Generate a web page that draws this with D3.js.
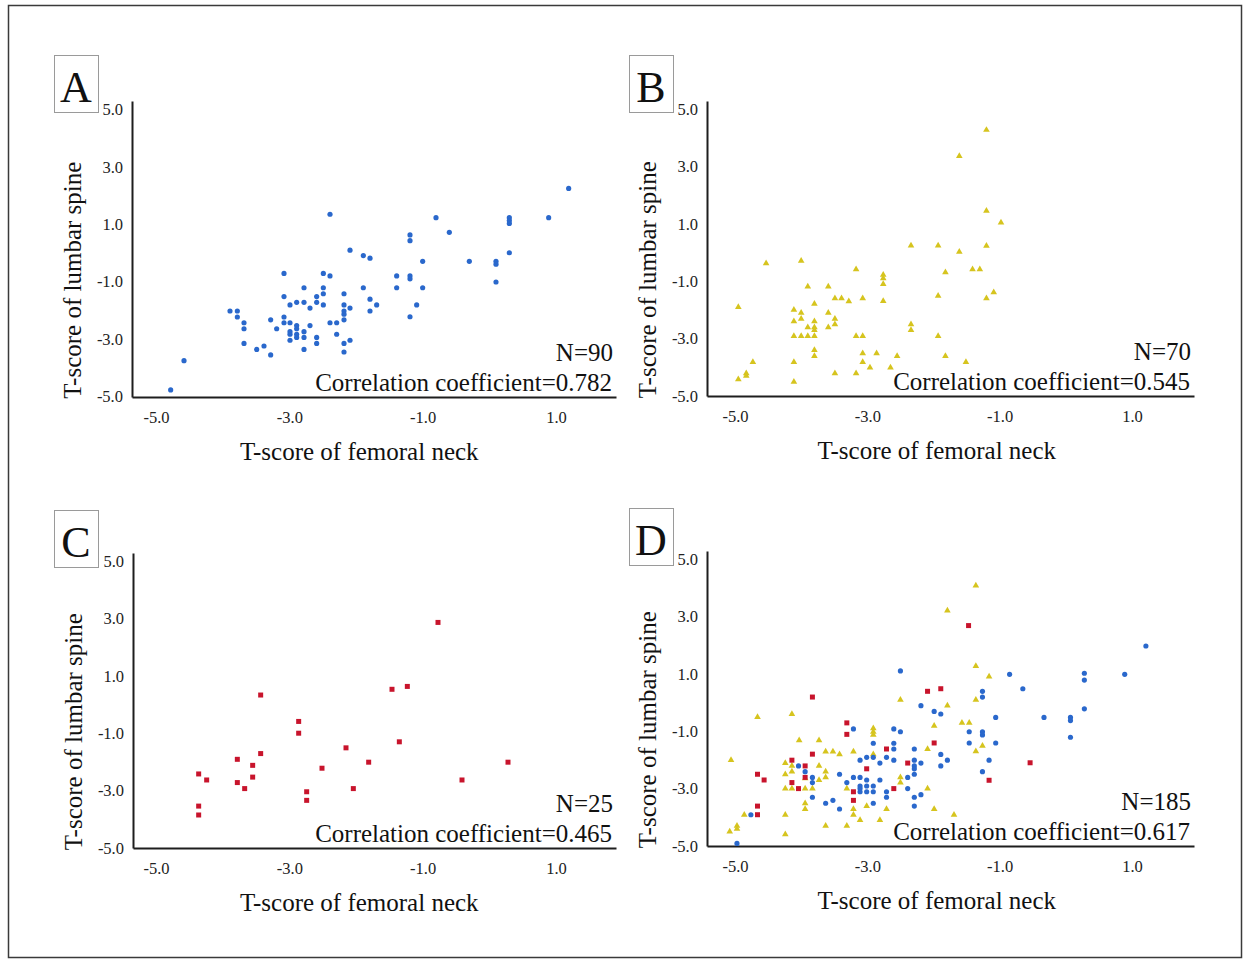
<!DOCTYPE html>
<html>
<head>
<meta charset="utf-8">
<script src="https://cdn.jsdelivr.net/npm/d3@7"></script>
<style>
  html, body { margin: 0; padding: 0; background: #fff; }
  svg { display: block; font-family: "Liberation Serif", "Times New Roman", serif; }
</style>
</head>
<body>
<div id="chart"></div>
<script>
/* Four scatter panels: T-score lumbar spine vs femoral neck */

// ---- data ----
const xTicks = [-5, -3, -1, 1];
const yTicks = [5, 3, 1, -1, -3, -5];
const panelLetters = ["A", "B", "C", "D"];
const panelN = [90, 70, 25, 185];
const panelR = ["0.782", "0.545", "0.465", "0.617"];

const panelA_blue = [
  [-2.39,1.35],[-2.09,0.10],[-1.89,-0.09],[-1.79,-0.18],[-3.08,-0.71],[-2.49,-0.71],[-2.39,-0.80],
  [-2.78,-1.21],[-2.49,-1.21],[-2.49,-1.42],[-1.89,-1.21],[-3.08,-1.52],[-2.59,-1.52],[-2.18,-1.42],
  [-1.79,-1.61],[-1.69,-1.81],[-1.79,-2.02],[-2.99,-1.81],[-2.89,-1.72],[-2.78,-1.72],[-2.69,-1.92],
  [-2.59,-1.72],[-2.49,-1.81],[-2.18,-1.81],[-2.18,-2.02],[-2.18,-2.13],[-2.09,-1.92],[-2.18,-2.33],
  [-2.39,-2.43],[-2.29,-2.43],[-2.29,-2.83],[-2.18,-3.15],[-2.09,-3.04],[-2.18,-3.45],[-3.89,-2.02],
  [-3.78,-2.02],[-3.78,-2.23],[-3.68,-2.43],[-3.68,-2.64],[-3.68,-3.15],[-3.49,-3.36],[-3.38,-3.24],
  [-3.28,-3.55],[-3.28,-2.33],[-3.19,-2.64],[-3.08,-2.23],[-3.08,-2.43],[-2.99,-2.43],[-2.89,-2.53],
  [-2.89,-2.64],[-2.99,-2.74],[-2.99,-2.83],[-2.89,-2.83],[-2.99,-3.04],[-2.89,-2.94],[-2.78,-2.74],
  [-2.78,-2.94],[-2.69,-2.53],[-2.78,-3.36],[-2.59,-2.94],[-2.59,-3.15],[-4.58,-3.75],[-4.78,-4.77],
  [1.19,2.25],[-0.80,1.23],[0.89,1.23],[0.30,1.23],[0.30,1.13],[0.30,1.03],[-0.60,0.72],
  [-1.19,0.63],[-1.19,0.43],[0.30,0.01],[-1.00,-0.29],[-0.30,-0.29],[0.10,-0.29],[0.10,-0.39],
  [-1.39,-0.80],[-1.19,-0.80],[-1.19,-0.90],[-1.39,-1.21],[-1.00,-1.21],[0.10,-1.01],[-1.09,-1.81],
  [-1.19,-2.22]
];

const panelB_yellow = [
  [-2.34,0.24],[-1.93,0.24],[-1.82,-0.69],[-1.93,-1.51],[-4.53,-0.38],[-4.00,-0.29],[-3.17,-0.59],
  [-2.76,-0.78],[-2.76,-0.90],[-2.76,-1.10],[-2.76,-1.69],[-3.90,-1.19],[-3.59,-1.19],[-3.49,-1.60],
  [-3.39,-1.60],[-3.28,-1.70],[-3.07,-1.60],[-3.80,-1.79],[-4.95,-1.90],[-4.11,-2.00],[-4.00,-2.10],
  [-4.00,-2.31],[-4.11,-2.40],[-3.59,-2.10],[-3.49,-2.31],[-3.49,-2.50],[-3.59,-2.61],[-3.90,-2.61],
  [-3.80,-2.40],[-3.80,-2.61],[-3.80,-2.70],[-4.11,-2.91],[-4.00,-2.91],[-3.90,-2.91],[-3.80,-2.91],
  [-3.17,-2.91],[-3.07,-2.91],[-2.34,-2.50],[-2.34,-2.70],[-1.93,-2.91],[-3.80,-3.40],[-3.80,-3.61],
  [-3.07,-3.51],[-2.86,-3.51],[-2.55,-3.61],[-3.07,-3.82],[-2.96,-4.01],[-2.65,-4.01],[-1.82,-3.61],
  [-4.73,-3.82],[-4.11,-3.82],[-4.83,-4.21],[-4.83,-4.30],[-4.95,-4.42],[-4.11,-4.51],[-3.49,-4.21],
  [-3.17,-4.21],[-1.20,4.27],[-1.61,3.36],[-1.20,1.45],[-0.98,1.04],[-1.20,0.23],[-1.61,0.02],
  [-1.41,-0.59],[-1.30,-0.59],[-1.09,-1.39],[-1.20,-1.60],[-1.51,-3.82]
];

const panelC_red = [
  [-3.43,0.33],[-2.86,-0.59],[-2.86,-1.00],[-2.15,-1.51],[-1.81,-2.01],[-3.43,-1.71],[-3.78,-1.91],
  [-3.55,-2.12],[-3.55,-2.53],[-3.78,-2.72],[-3.67,-2.93],[-4.36,-2.42],[-4.24,-2.63],[-4.36,-3.54],
  [-4.36,-3.85],[-2.51,-2.22],[-2.74,-3.04],[-2.74,-3.34],[-2.04,-2.93],[-0.77,2.86],[-1.46,0.53],
  [-1.23,0.63],[-1.35,-1.30],[0.28,-2.01],[-0.41,-2.63]
];

const panelD_yellow = [
  [-1.79,3.20],[-2.50,0.09],[-1.79,-0.11],[-4.66,-0.51],[-4.14,-0.40],[-2.91,-0.90],[-2.91,-1.02],
  [-2.91,-1.13],[-4.03,-1.32],[-3.73,-1.32],[-3.63,-1.71],[-3.52,-1.71],[-3.42,-1.81],[-3.21,-1.71],
  [-2.91,-1.81],[-1.99,-0.81],[-2.09,-1.62],[-5.06,-2.01],[-4.24,-2.11],[-4.14,-2.21],[-4.24,-2.50],
  [-4.14,-2.41],[-3.94,-2.64],[-3.73,-2.21],[-3.63,-2.41],[-3.63,-2.61],[-3.73,-2.70],[-4.24,-3.00],
  [-4.14,-3.00],[-3.94,-3.00],[-3.83,-3.00],[-3.31,-3.00],[-2.50,-2.61],[-2.50,-2.79],[-2.09,-3.00],
  [-3.94,-3.51],[-3.94,-3.71],[-3.21,-3.71],[-3.01,-3.61],[-2.71,-3.71],[-1.99,-3.71],[-4.86,-3.91],
  [-4.24,-3.91],[-3.21,-3.91],[-3.11,-4.10],[-2.81,-4.10],[-4.97,-4.30],[-4.97,-4.40],[-5.08,-4.50],
  [-4.24,-4.59],[-3.63,-4.30],[-3.31,-4.30],[-1.69,-3.91],[-1.36,4.07],[-1.36,1.27],[-1.16,0.90],
  [-1.36,0.09],[-1.57,-0.71],[-1.46,-0.71],[-1.26,-1.51],[-1.36,-1.70]
];

const panelD_blue = [
  [-2.50,1.10],[-2.19,-0.11],[-1.99,-0.31],[-1.89,-0.40],[-3.21,-0.92],[-2.60,-0.92],[-2.50,-1.02],
  [-2.91,-1.42],[-2.60,-1.42],[-2.60,-1.62],[-2.29,-1.62],[-1.89,-1.81],[-1.79,-2.01],[-1.89,-2.21],
  [-3.11,-2.01],[-3.01,-1.91],[-2.91,-1.91],[-2.81,-2.11],[-2.71,-1.91],[-2.60,-2.01],[-2.29,-2.01],
  [-2.29,-2.21],[-2.29,-2.31],[-2.19,-2.11],[-2.29,-2.50],[-2.39,-2.61],[-2.39,-3.00],[-2.29,-3.30],
  [-2.19,-3.21],[-2.29,-3.61],[-4.04,-2.21],[-3.94,-2.41],[-3.83,-2.61],[-3.83,-2.79],[-3.83,-3.30],
  [-3.63,-3.51],[-3.52,-3.41],[-3.42,-3.71],[-3.42,-2.50],[-3.31,-2.79],[-3.21,-2.61],[-3.11,-2.61],
  [-3.11,-2.91],[-3.11,-3.00],[-3.11,-3.11],[-3.01,-2.70],[-3.01,-2.91],[-3.01,-3.11],[-2.91,-2.91],
  [-2.91,-3.11],[-2.81,-2.70],[-2.91,-3.51],[-2.71,-3.11],[-2.71,-3.30],[-4.76,-3.91],[-4.97,-4.91],
  [1.21,1.97],[-0.85,0.98],[0.89,0.98],[0.28,1.02],[0.28,0.78],[-0.65,0.48],[-1.26,0.39],
  [-1.26,0.19],[0.28,-0.22],[-1.06,-0.52],[-0.33,-0.52],[0.07,-0.52],[0.07,-0.63],[0.07,-1.21],
  [-1.46,-1.02],[-1.26,-1.02],[-1.26,-1.13],[-1.46,-1.41],[-1.06,-1.41],[-1.16,-2.01],[-1.26,-2.41]
];

const panelD_red = [
  [-3.83,0.19],[-2.09,0.39],[-1.89,0.48],[-3.31,-0.71],[-3.31,-1.11],[-1.99,-1.41],[-3.83,-1.80],
  [-2.71,-1.62],[-4.14,-2.01],[-3.94,-2.21],[-3.94,-2.61],[-3.01,-2.31],[-2.39,-2.11],[-4.14,-2.79],
  [-4.04,-3.00],[-4.66,-2.50],[-4.56,-2.70],[-3.21,-3.11],[-3.21,-3.41],[-2.60,-3.00],[-4.66,-3.61],
  [-4.66,-3.91],[-1.47,2.68],[-0.54,-2.10],[-1.16,-2.71]
];

// ---- marker styles ----
const COLORS = { blue: "#2a68cc", yellow: "#d6c41e", red: "#c8142c" };
const SHAPES = {
  blue:   d3.symbol().type(d3.symbolCircle).size(21),
  yellow: d3.symbol().type(d3.symbolTriangle).size(19),
  red:    d3.symbol().type(d3.symbolSquare).size(25)
};

// ---- panel geometry (pixels) ----
const panels = [
  { left: 132, right: 616, top: 101, bottom: 397, x5: 156, x1: 556, y5: 109.5, yM5: 396.5, box: [54, 55],
    series: [["blue", panelA_blue]] },
  { left: 707, right: 1194, top: 101, bottom: 396, x5: 735, x1: 1132, y5: 109, yM5: 396, box: [629, 55],
    series: [["yellow", panelB_yellow]] },
  { left: 133, right: 616, top: 553, bottom: 848, x5: 156, x1: 556, y5: 561, yM5: 848, box: [54, 510],
    series: [["red", panelC_red]] },
  { left: 707, right: 1194, top: 551, bottom: 846, x5: 735, x1: 1132, y5: 559, yM5: 846, box: [629, 508],
    series: [["yellow", panelD_yellow], ["blue", panelD_blue], ["red", panelD_red]] }
];

const W = 1250, H = 963;
const svg = d3.select("#chart").append("svg").attr("width", W).attr("height", H);

svg.append("rect")
  .attr("x", 8.5).attr("y", 5.5).attr("width", 1233).attr("height", 952)
  .attr("fill", "none").attr("stroke", "#3a3a3a").attr("stroke-width", 1.5);

const fmt = d => d.toFixed(1);

panels.forEach((p, i) => {
  const g = svg.append("g");

  // scales: calibrated on tick positions, extended to the axis line ends
  const xBase = d3.scaleLinear().domain([-5, 1]).range([p.x5, p.x1]);
  const yBase = d3.scaleLinear().domain([-5, 5]).range([p.yM5, p.y5]);
  const x = d3.scaleLinear().domain([xBase.invert(p.left), xBase.invert(p.right)]).range([p.left, p.right]);
  const y = d3.scaleLinear().domain([yBase.invert(p.bottom), yBase.invert(p.top)]).range([p.bottom, p.top]);

  const xAxisG = g.append("g").attr("transform", `translate(0,${p.bottom})`)
    .call(d3.axisBottom(x).tickValues(xTicks).tickFormat(fmt).tickSize(0).tickPadding(14));
  const yAxisG = g.append("g").attr("transform", `translate(${p.left},0)`)
    .call(d3.axisLeft(y).tickValues(yTicks).tickFormat(fmt).tickSize(0).tickPadding(9));

  [xAxisG, yAxisG].forEach(a => {
    a.attr("font-family", null).attr("font-size", null);
    a.select(".domain").attr("stroke", "#1e1e1e").attr("stroke-width", 2);
    a.selectAll("text").style("font-size", "16.5px").attr("fill", "#222");
  });

  // axis titles
  g.append("text")
    .attr("x", xBase(-1.95))
    .attr("y", p.bottom + 63)
    .attr("text-anchor", "middle")
    .style("font-size", "25px")
    .attr("fill", "#111")
    .text("T-score of femoral neck");

  g.append("text")
    .attr("transform", `translate(${p.left - 51},${yBase(-0.95)}) rotate(-90)`)
    .attr("text-anchor", "middle")
    .style("font-size", "25px")
    .attr("fill", "#111")
    .text("T-score of lumbar spine");

  // points
  p.series.forEach(([key, pts]) => {
    g.append("g").selectAll("path")
      .data(pts)
      .join("path")
      .attr("transform", d => `translate(${x(d[0])},${y(d[1])})`)
      .attr("d", SHAPES[key])
      .attr("fill", COLORS[key]);
  });

  // annotations
  g.append("text")
    .attr("x", p.right - 3).attr("y", p.bottom - 36)
    .attr("text-anchor", "end")
    .style("font-size", "25px").attr("fill", "#111")
    .text(`N=${panelN[i]}`);
  g.append("text")
    .attr("x", p.right - 4).attr("y", p.bottom - 6)
    .attr("text-anchor", "end")
    .style("font-size", "25px").attr("fill", "#111")
    .text(`Correlation coefficient=${panelR[i]}`);

  // panel letter in a box
  g.append("rect")
    .attr("x", p.box[0] + 0.5).attr("y", p.box[1] + 0.5)
    .attr("width", 44).attr("height", 57)
    .attr("fill", "#fff").attr("stroke", "#9a9a9a").attr("stroke-width", 1);
  g.append("text")
    .attr("x", p.box[0] + 22).attr("y", p.box[1] + 47)
    .attr("text-anchor", "middle")
    .style("font-size", "44px").attr("fill", "#111")
    .text(panelLetters[i]);
});
</script>
</body>
</html>
